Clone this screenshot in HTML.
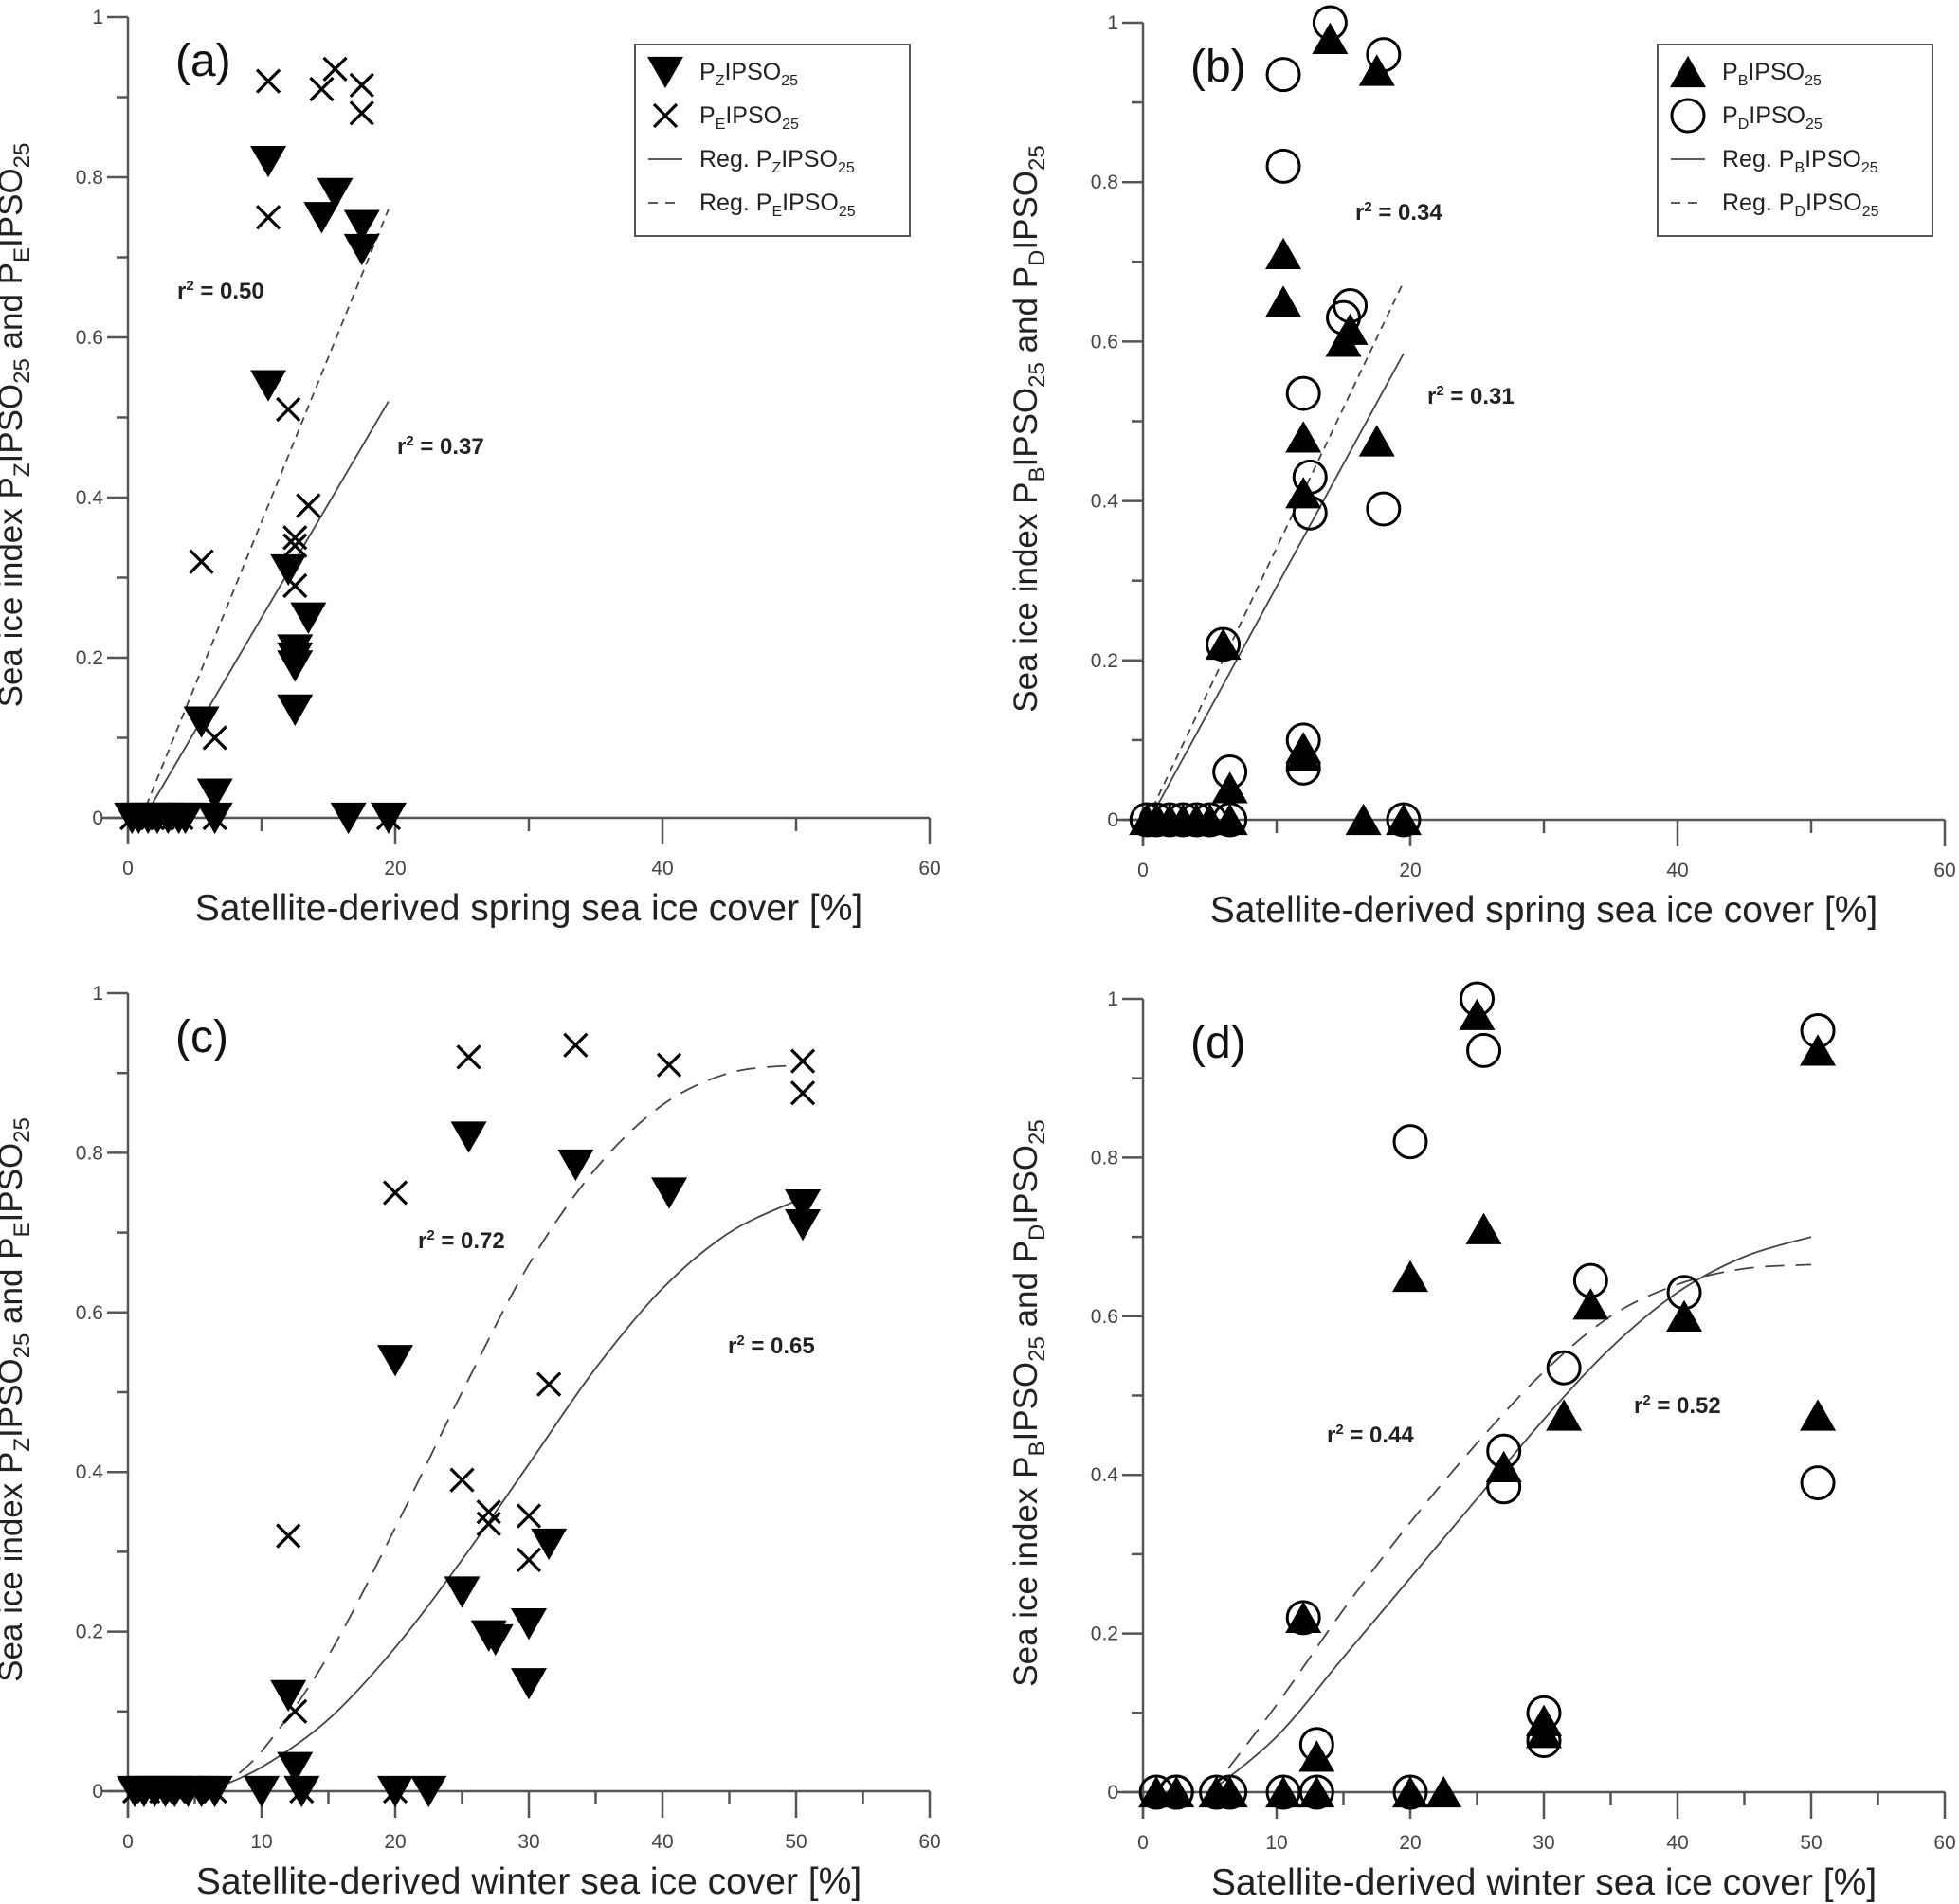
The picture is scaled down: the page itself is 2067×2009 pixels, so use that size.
<!DOCTYPE html>
<html><head><meta charset="utf-8"><style>
html,body{margin:0;padding:0;background:#fff}
svg{display:block;font-family:"Liberation Sans",Arial,sans-serif}
</style></head><body>
<svg id="chart" width="2067" height="2009" viewBox="0 0 2067 2009" xmlns="http://www.w3.org/2000/svg"></svg>
<script>
// ---------- data ----------
const aPzX=[0.3,0.8,1.5,2.2,3,3.8,4.3,5.5,6.5,6.5,10.5,10.5,12,12.5,12.5,12.5,12.5,13.5,14.5,15.5,16.5,17.5,17.5,19.5];
const aPzY=[0,0,0,0,0,0,0,0.12,0.03,0,0.82,0.54,0.31,0.21,0.2,0.19,0.135,0.25,0.75,0.78,0,0.74,0.71,0];
const aPeX=[0.3,1,1.8,2.6,3.4,4,5.5,6.5,6.5,10.5,10.5,12,12.5,12.5,12.5,13.5,14.5,15.5,17.5,17.5,19.5];
const aPeY=[0,0,0,0,0,0,0.32,0.1,0,0.92,0.75,0.51,0.35,0.34,0.29,0.39,0.91,0.935,0.915,0.88,0];
const aRegZX=[1.2,19.5], aRegZY=[0,0.52];
const aRegEX=[1,19.5], aRegEY=[0,0.76];

const bPbX=[0.3,1,2,3,4,5,6,6.5,6.5,10.5,10.5,12,12,12,12,14,15,15.5,16.5,17.5,17.5,19.5];
const bPbY=[0,0,0,0,0,0,0.22,0.04,0,0.71,0.65,0.48,0.41,0.09,0.08,0.98,0.6,0.615,0,0.94,0.475,0];
const bPdX=[0.3,1,2,3,4,5,6,6.5,6.5,10.5,10.5,12,12.5,12.5,12,12,14,15,15.5,18,18,19.5];
const bPdY=[0,0,0,0,0,0,0.22,0.06,0,0.935,0.82,0.535,0.43,0.385,0.1,0.065,1.0,0.63,0.645,0.96,0.39,0];
const bRegBX=[0.5,19.5], bRegBY=[0,0.585];
const bRegDX=[0.3,19.5], bRegDY=[0,0.675];

const cPzX=[0.5,1.2,2,2.8,3.5,4.5,5.5,6.5,10,12,12.5,13,20,20,22.5,25,25.5,27,27.5,30,30,31.5,33.5,40.5,50.5,50.5];
const cPzY=[0,0,0,0,0,0,0,0,0,0.12,0.03,0,0.54,0,0,0.25,0.82,0.195,0.19,0.21,0.135,0.31,0.785,0.75,0.735,0.71];
const cPeX=[0.5,1.5,2.5,3.5,5,6.5,12,12.5,13,20,20,25,25.5,27,27,30,30,31.5,33.5,40.5,50.5,50.5];
const cPeY=[0,0,0,0,0,0,0.32,0.1,0,0.75,0,0.39,0.92,0.35,0.335,0.345,0.29,0.51,0.935,0.91,0.915,0.875];
const cRegZX=[6,10,15,20,25,30,35,40,45,50], cRegZY=[0,0.03,0.09,0.18,0.29,0.41,0.53,0.63,0.7,0.74];
const cRegEX=[6.5,10,15,20,25,30,35,40,45,50], cRegEY=[0,0.05,0.17,0.33,0.5,0.66,0.78,0.86,0.9,0.91];

const dPbX=[1,2.5,5.5,6.5,10.5,13,20,22.5,12,13,25,25.5,20,27,30,30,31.5,33.5,40.5,50.5,50.5];
const dPbY=[0,0,0,0,0,0,0,0,0.22,0.045,0.98,0.71,0.65,0.41,0.09,0.075,0.475,0.615,0.6,0.935,0.475];
const dPdX=[1,2.5,2.5,5.5,6.5,10.5,13,20,12,13,20,25,25.5,27,27,30,30,31.5,33.5,40.5,50.5,50.5];
const dPdY=[0,0,0,0,0,0,0,0,0.22,0.06,0.82,1.0,0.935,0.43,0.385,0.1,0.065,0.535,0.645,0.63,0.96,0.39];
const dRegBX=[5,10,15,20,25,30,35,40,45,50], dRegBY=[0,0.07,0.17,0.27,0.37,0.47,0.56,0.63,0.675,0.7];
const dRegDX=[5,10,15,20,25,30,35,40,45,50], dRegDY=[0,0.11,0.23,0.34,0.44,0.53,0.6,0.64,0.66,0.665];

const yTicks=[0,0.2,0.4,0.6,0.8,1];
const yTickLabels=["0","0.2","0.4","0.6","0.8","1"];
const xTicksAB=[0,20,40,60];
const xTicksCD=[0,10,20,30,40,50,60];

// ---------- helpers ----------
const NS="http://www.w3.org/2000/svg";
const svg=document.getElementById('chart');
function mk(tag,attrs,parent){const e=document.createElementNS(NS,tag);for(const k in attrs)e.setAttribute(k,attrs[k]);(parent||svg).appendChild(e);return e;}

function panel(id,x0,y0,y1,xTicks,minorStep,xTitle,yA,yB){
  const g=mk('g',{});
  
  
  const sx=v=>x0+v*846/60;
  const sy=v=>y0-(y0-y1)*v;
  const ax='#555';
  const ya=mk('line',{x1:x0,y1:y1,x2:x0,y2:y0+28,stroke:ax,'stroke-width':2.5},g);
  
  
  const xa=mk('line',{x1:x0-28,y1:y0,x2:sx(60),y2:y0,stroke:ax,'stroke-width':2.5},g);
  
  
  for(let v=0;v<=1.0001;v+=0.1){const maj=Math.round(v*10)%2===0;mk('line',{x1:x0-(maj?22:12),y1:sy(v),x2:x0,y2:sy(v),stroke:ax,'stroke-width':2.5},g);}
  yTicks.forEach((v,i)=>{const t=mk('text',{x:x0-26,y:sy(v)+7,'text-anchor':'end','font-size':21,fill:'#444'},g);t.textContent=yTickLabels[i];
    
    });
  for(let v=0;v<=60.001;v+=minorStep){const maj=xTicks.indexOf(Math.round(v))>=0;mk('line',{x1:sx(v),y1:y0,x2:sx(v),y2:y0+(maj?28:14),stroke:ax,'stroke-width':2.5},g);}
  xTicks.forEach(v=>{const t=mk('text',{x:sx(v),y:y0+60,'text-anchor':'middle','font-size':21,fill:'#444'},g);t.textContent=String(v);
    
    });
  const xt=mk('text',{x:sx(30),y:y0+108,'text-anchor':'middle','font-size':39,fill:'#222'},g);xt.textContent=xTitle;
  
  
  const cx=x0-112, cy=(y0+y1)/2+8;
  const yt=mk('text',{x:cx,y:cy,'text-anchor':'middle','font-size':35,fill:'#222',transform:`rotate(-90 ${cx} ${cy})`},g);
  
  
  yt.innerHTML=`Sea ice index  P<tspan font-size="24" dy="8">${yA}</tspan><tspan dy="-8">IPSO</tspan><tspan font-size="24" dy="8">25</tspan><tspan dy="-8"> and P</tspan><tspan font-size="24" dy="8">${yB}</tspan><tspan dy="-8">IPSO</tspan><tspan font-size="24" dy="8">25</tspan>`;
  const pl=mk('text',{x:x0+50,y:y1+62,'font-size':48,fill:'#111'},g);pl.textContent='('+id+')';
  
  
  return {g,sx,sy};
}
function tri(g,x,y,down){const s=19;const pts=down?`${x-s},${y-s*0.85} ${x+s},${y-s*0.85} ${x},${y+s*0.9}`:`${x-s},${y+s*0.85} ${x+s},${y+s*0.85} ${x},${y-s*0.9}`;return mk('polygon',{points:pts,fill:'#000'},g);}
function cross(g,x,y){const s=12;const e=mk('path',{d:`M${x-s},${y-s}L${x+s},${y+s}M${x-s},${y+s}L${x+s},${y-s}`,stroke:'#000','stroke-width':3.2,fill:'none'},g);return e;}
function circ(g,x,y){return mk('circle',{cx:x,cy:y,r:17,fill:'none',stroke:'#000','stroke-width':3},g);}
function series(P,xs,ys,kind,name){xs.forEach((xv,i)=>{let e;const X=P.sx(xv),Y=P.sy(ys[i]);
  if(kind==='down')e=tri(P.g,X,Y,true);else if(kind==='up')e=tri(P.g,X,Y,false);else if(kind==='x')e=cross(P.g,X,Y);else e=circ(P.g,X,Y);
  
  });}
function curve(P,xs,ys,dash,name){
  const p=xs.map((xv,i)=>[P.sx(xv),P.sy(ys[i])]);
  let d='M'+p[0][0].toFixed(1)+','+p[0][1].toFixed(1);
  if(p.length===2){d+='L'+p[1][0].toFixed(1)+','+p[1][1].toFixed(1);}
  else for(let i=0;i<p.length-1;i++){const p0=p[i-1]||p[i],p1=p[i],p2=p[i+1],p3=p[i+2]||p2;
    const c1=[p1[0]+(p2[0]-p0[0])/6,p1[1]+(p2[1]-p0[1])/6],c2=[p2[0]-(p3[0]-p1[0])/6,p2[1]-(p3[1]-p1[1])/6];
    d+=`C${c1[0].toFixed(1)},${c1[1].toFixed(1)} ${c2[0].toFixed(1)},${c2[1].toFixed(1)} ${p2[0].toFixed(1)},${p2[1].toFixed(1)}`;}
  const e=mk('path',{d:d,fill:'none',stroke:'#444','stroke-width':1.8,'stroke-dasharray':dash||'none'},P.g);
  
  }
function rlabel(P,x,y,val){const t=mk('text',{x:x,y:y,'font-size':24,'font-weight':'bold',fill:'#222'},P.g);t.innerHTML='r<tspan font-size="15" dy="-9">2</tspan><tspan dy="9"> = '+val+'</tspan>';
  
  }
function legend(x,y,entries,name){const g=mk('g',{});
  
  
  mk('rect',{x:x,y:y,width:290,height:202,fill:'#fff',stroke:'#555','stroke-width':2},g);
  entries.forEach((en,i)=>{const cy=y+29+i*46;const sx=x+32;
    if(en.k==='down')tri(g,sx,cy,true);else if(en.k==='up')tri(g,sx,cy,false);else if(en.k==='x')cross(g,sx,cy);else if(en.k==='o')circ(g,sx,cy);
    else mk('line',{x1:sx-18,y1:cy,x2:sx+18,y2:cy,stroke:'#444','stroke-width':1.8,'stroke-dasharray':en.k==='dash'?'10,8':'none'},g);
    const t=mk('text',{x:x+68,y:cy+8,'font-size':25,fill:'#222'},g);
    
    
    t.innerHTML=`${en.p}P<tspan font-size="16" dy="6">${en.s}</tspan><tspan dy="-6">IPSO</tspan><tspan font-size="16" dy="6">25</tspan>`;});}

// ---------- panels ----------
const A=panel('a',135,863,18,xTicksAB,10,'Satellite-derived spring sea ice cover [%]','Z','E');
curve(A,aRegZX,aRegZY,null,'reg-pz-line');
curve(A,aRegEX,aRegEY,'8,6','reg-pe-line');
series(A,aPzX,aPzY,'down','pz-point');
series(A,aPeX,aPeY,'x','pe-point');
rlabel(A,187,315,'0.50');rlabel(A,419,479,'0.37');
legend(670,47,[{k:'down',p:'',s:'Z'},{k:'x',p:'',s:'E'},{k:'line',p:'Reg. ',s:'Z'},{k:'dash',p:'Reg. ',s:'E'}],'legend-a');

const B=panel('b',1206,865,24,xTicksAB,10,'Satellite-derived spring sea ice cover [%]','B','D');
curve(B,bRegBX,bRegBY,null,'reg-pb-line');
curve(B,bRegDX,bRegDY,'8,6','reg-pd-line');
series(B,bPbX,bPbY,'up','pb-point');
series(B,bPdX,bPdY,'o','pd-point');
rlabel(B,1430,232,'0.34');rlabel(B,1506,426,'0.31');
legend(1749,47,[{k:'up',p:'',s:'B'},{k:'o',p:'',s:'D'},{k:'line',p:'Reg. ',s:'B'},{k:'dash',p:'Reg. ',s:'D'}],'legend-b');

const C=panel('c',135,1890,1048,xTicksCD,5,'Satellite-derived winter sea ice cover [%]','Z','E');
curve(C,cRegZX,cRegZY,null,'reg-pz-curve');
curve(C,cRegEX,cRegEY,'20,12','reg-pe-curve');
series(C,cPzX,cPzY,'down','pz-point');
series(C,cPeX,cPeY,'x','pe-point');
rlabel(C,441,1317,'0.72');rlabel(C,768,1428,'0.65');

const D=panel('d',1206,1891,1054,xTicksCD,5,'Satellite-derived winter sea ice cover [%]','B','D');
curve(D,dRegBX,dRegBY,null,'reg-pb-curve');
curve(D,dRegDX,dRegDY,'20,12','reg-pd-curve');
series(D,dPbX,dPbY,'up','pb-point');
series(D,dPdX,dPdY,'o','pd-point');
rlabel(D,1400,1522,'0.44');rlabel(D,1724,1491,'0.52');
</script>
</body></html>
